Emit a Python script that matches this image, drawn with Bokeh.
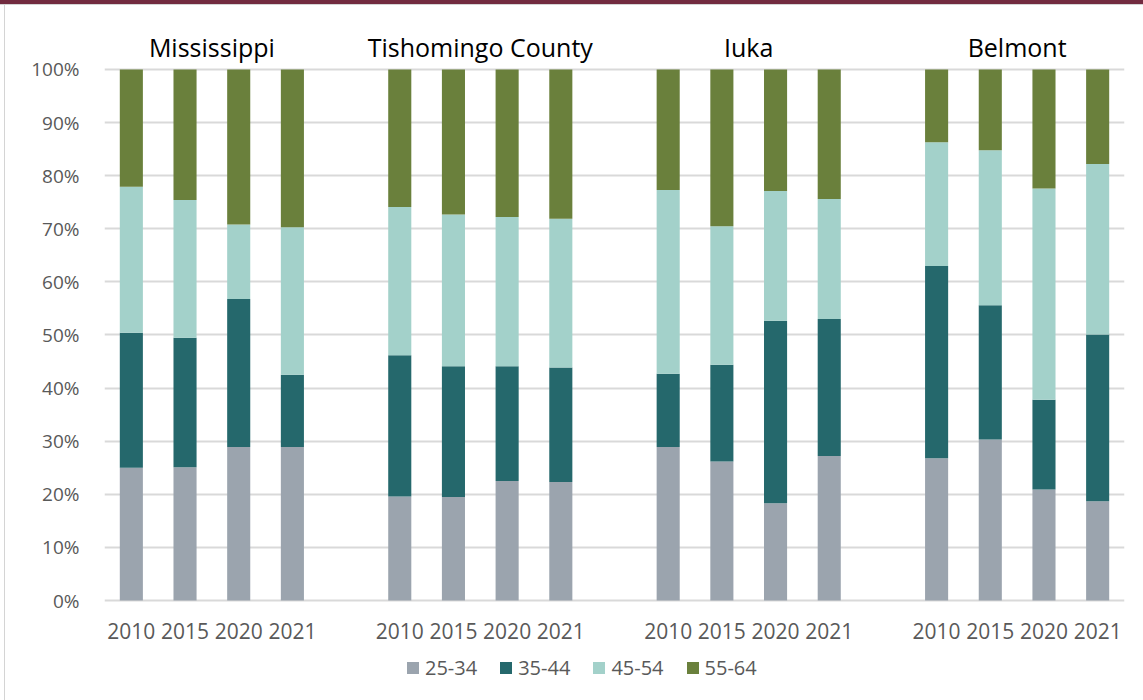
from bokeh.plotting import figure
from bokeh.models import (Range1d, FixedTicker, PrintfTickFormatter, Label,
                          Legend, ColumnDataSource)
from bokeh.embed import file_html
from bokeh.resources import INLINE

groups = ["Mississippi", "Tishomingo County", "Iuka", "Belmont"]
years = ["2010", "2015", "2020", "2021"]
age_groups = ["25-34", "35-44", "45-54", "55-64"]
colors = ["#9BA4AE", "#25686C", "#A3D1CA", "#6A803C"]

# share (%) of each age group; order: group by group, year by year
age_25_34 = [25.0, 25.1, 28.9, 28.9, 19.6, 19.5, 22.5, 22.3,
             28.9, 26.2, 18.3, 27.2, 26.8, 30.3, 20.9, 18.7]
age_35_44 = [25.4, 24.4, 27.9, 13.6, 26.6, 24.6, 21.6, 21.6,
             13.8, 18.2, 34.4, 25.8, 36.2, 25.3, 16.9, 31.4]
age_45_54 = [27.5, 25.9, 14.0, 27.8, 27.9, 28.6, 28.1, 28.0,
             34.6, 26.1, 24.4, 22.6, 23.3, 29.2, 39.8, 32.1]
age_55_64 = [22.1, 24.6, 29.2, 29.7, 25.9, 27.3, 27.8, 28.1,
             22.7, 29.5, 22.9, 24.4, 13.7, 15.2, 22.4, 17.8]

FONT = "Open Sans"
GRAY = "#595959"

# slot positions: 4 years per group, one empty slot between groups
n_y = len(years)
xs, labels = [], []
for gi, g in enumerate(groups):
    for yi, y in enumerate(years):
        xs.append(gi * (n_y + 1) + yi + 1)
        labels.append(y)
n_slots = len(groups) * (n_y + 1) - 1

source = ColumnDataSource(dict(x=xs, a=age_25_34, b=age_35_44, c=age_45_54, d=age_55_64))

W, H = 1143, 700
# frame spans the full height; 0% sits 100px above the bottom, 100% 69px below top
p = figure(width=W, height=H, output_backend="svg", toolbar_location=None,
           x_range=Range1d(0.5, n_slots + 0.5), y_range=Range1d(-18.83, 112.99),
           min_border_left=104, min_border_right=19, min_border_top=0,
           min_border_bottom=0)
p.outline_line_color = None
p.background_fill_alpha = 0
p.border_fill_alpha = 0
# chart-box decoration: dark red header strip and light frame line on the left
p.styles = {"background-color": "#FFFFFF",
            "box-shadow": ("inset 0 4px 0 #722B40, inset 0 5px 0 #D4D4D4, "
                           "inset 4px 0 0 #FFFFFF, inset 5px 0 0 #D4D4D4")}

renderers = p.vbar_stack(["a", "b", "c", "d"], x="x", width=0.43, color=colors,
                         line_color=None, source=source)

# axes
p.yaxis.ticker = FixedTicker(ticks=list(range(0, 101, 10)))
p.yaxis.formatter = PrintfTickFormatter(format="%d%%")
p.xaxis.ticker = FixedTicker(ticks=xs)
p.xaxis.major_label_overrides = {x: l for x, l in zip(xs, labels)}
p.xaxis.fixed_location = 0
for ax in (p.xaxis[0], p.yaxis[0]):
    ax.axis_line_color = None
    ax.major_tick_line_color = None
    ax.minor_tick_line_color = None
    ax.major_label_text_font = FONT
    ax.major_label_text_color = GRAY
p.yaxis.major_label_text_font_size = "19px"
p.xaxis.major_label_text_font_size = "21px"
p.yaxis.major_label_standoff = 19
p.xaxis.major_label_standoff = 16

p.xgrid.grid_line_color = None
p.ygrid.grid_line_color = "#D9D9D9"
p.ygrid.grid_line_width = 2

# group titles
for gi, g in enumerate(groups):
    cx = gi * (n_y + 1) + (n_y + 1) / 2
    p.add_layout(Label(x=cx, y=100, x_units="data", y_units="data", text=g,
                       y_offset=22, text_align="center", text_baseline="middle",
                       text_font=FONT, text_font_size="25px", text_color="#000000"))

legend = Legend(items=[(name, [r]) for name, r in zip(age_groups, renderers)],
                orientation="horizontal", location=(301, 19),
                glyph_width=15, glyph_height=15, label_standoff=5, spacing=21,
                padding=0, margin=0, border_line_color=None,
                background_fill_alpha=0,
                label_text_font=FONT, label_text_font_size="20px",
                label_text_color=GRAY)
p.add_layout(legend, "center")

open("out.html", "w").write(file_html(p, INLINE))
